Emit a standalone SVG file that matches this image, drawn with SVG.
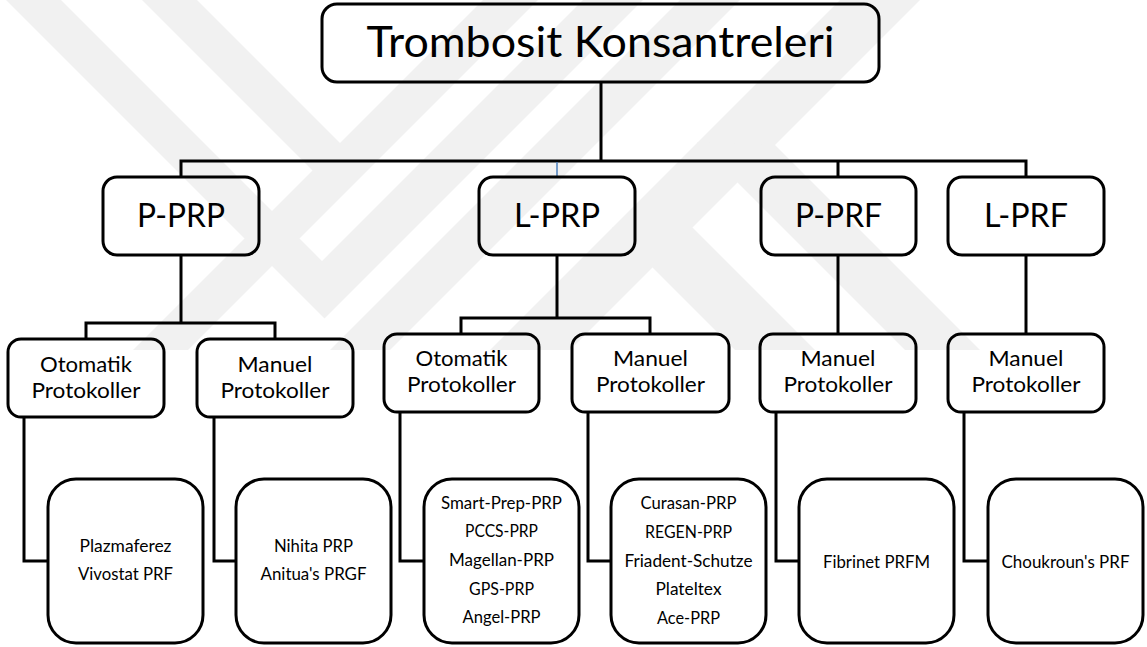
<svg xmlns="http://www.w3.org/2000/svg" width="1147" height="647" viewBox="0 0 1147 647">
<style>
  .wm { fill: #f1f1f1; stroke: none; }
  .box { fill: none; stroke: #000; stroke-width: 3; }
  .con { fill: none; stroke: #000; stroke-width: 3; stroke-linejoin: miter; }
  text { font-family: Lato, "Open Sans", "DejaVu Sans", sans-serif; fill: #000; text-anchor: middle; }
  .t0 { font-size: 43px; }
  .t1 { font-size: 33.5px; }
  .t2 { font-size: 21.5px; }
  .t3 { font-size: 16.8px; }
</style>
<rect width="1147" height="647" fill="#fff"/>
<g id="watermark">
  <polygon class="wm" points="142,0 197,0 340,143 483,0 538,0 188,350 133,350 312.5,170.5"/>
  <polygon class="wm" points="6,0 61,0 322,261 583,0 643,0 324.5,318.5"/>
  <polygon class="wm" points="680,0 740,0 390,350 330,350"/>
  <polygon class="wm" points="840,0 920,0 570,350 490,350"/>
  <polygon class="wm" points="612,227 692,227 815,350 735,350"/>
  <polygon class="wm" points="697,142 775,145 980,350 905,350"/>
</g>
<g id="connectors">
  <path class="con" d="M601 82 V161"/>
  <path class="con" d="M181 177 V161 H1026 V177"/>
  <path class="con" d="M838 161 V177"/>
  <path d="M557 162 V177" stroke="#4a7ebb" stroke-width="1.5" fill="none"/>
  <path class="con" d="M181 255 V323"/>
  <path class="con" d="M86 339 V323 H275 V339"/>
  <path class="con" d="M557 255 V318"/>
  <path class="con" d="M461 334 V318 H650 V334"/>
  <path class="con" d="M838 255 V334"/>
  <path class="con" d="M1026 255 V334"/>
  <path class="con" d="M24 417 V561 H48"/>
  <path class="con" d="M214 417 V561 H236"/>
  <path class="con" d="M400 412 V561 H424"/>
  <path class="con" d="M588 412 V561 H611"/>
  <path class="con" d="M776 412 V561 H799"/>
  <path class="con" d="M964 412 V561 H988"/>
</g>
<g id="root">
  <rect class="box" x="322" y="4" width="557" height="78" rx="15"/>
  <text class="t0" x="600.5" y="57" textLength="468" lengthAdjust="spacingAndGlyphs">Trombosit Konsantreleri</text>
</g>
<g id="p-prp">
  <rect class="box" x="103" y="177" width="156" height="78" rx="14"/>
  <text class="t1" x="181" y="227" textLength="88" lengthAdjust="spacingAndGlyphs">P-PRP</text>
</g>
<g id="l-prp">
  <rect class="box" x="479" y="177" width="156" height="78" rx="14"/>
  <text class="t1" x="557" y="227" textLength="86" lengthAdjust="spacingAndGlyphs">L-PRP</text>
</g>
<g id="p-prf">
  <rect class="box" x="761" y="177" width="155" height="78" rx="14"/>
  <text class="t1" x="838.5" y="227" textLength="87" lengthAdjust="spacingAndGlyphs">P-PRF</text>
</g>
<g id="l-prf">
  <rect class="box" x="948" y="177" width="156" height="78" rx="14"/>
  <text class="t1" x="1026" y="227" textLength="84" lengthAdjust="spacingAndGlyphs">L-PRF</text>
</g>
<g id="pprp-oto">
  <rect class="box" x="8" y="339" width="156" height="78" rx="13"/>
  <text class="t2" x="86" y="372" textLength="92" lengthAdjust="spacingAndGlyphs">Otomatik</text>
  <text class="t2" x="86" y="398" textLength="109" lengthAdjust="spacingAndGlyphs">Protokoller</text>
</g>
<g id="pprp-man">
  <rect class="box" x="197" y="339" width="156" height="78" rx="13"/>
  <text class="t2" x="275" y="372" textLength="75" lengthAdjust="spacingAndGlyphs">Manuel</text>
  <text class="t2" x="275" y="398" textLength="109" lengthAdjust="spacingAndGlyphs">Protokoller</text>
</g>
<g id="lprp-oto">
  <rect class="box" x="384" y="334" width="155" height="78" rx="13"/>
  <text class="t2" x="461.5" y="366" textLength="92" lengthAdjust="spacingAndGlyphs">Otomatik</text>
  <text class="t2" x="461.5" y="392" textLength="109" lengthAdjust="spacingAndGlyphs">Protokoller</text>
</g>
<g id="lprp-man">
  <rect class="box" x="572" y="334" width="157" height="78" rx="13"/>
  <text class="t2" x="650.5" y="366" textLength="75" lengthAdjust="spacingAndGlyphs">Manuel</text>
  <text class="t2" x="650.5" y="392" textLength="109" lengthAdjust="spacingAndGlyphs">Protokoller</text>
</g>
<g id="pprf-man">
  <rect class="box" x="760" y="334" width="156" height="78" rx="13"/>
  <text class="t2" x="838" y="366" textLength="75" lengthAdjust="spacingAndGlyphs">Manuel</text>
  <text class="t2" x="838" y="392" textLength="109" lengthAdjust="spacingAndGlyphs">Protokoller</text>
</g>
<g id="lprf-man">
  <rect class="box" x="948" y="334" width="156" height="78" rx="13"/>
  <text class="t2" x="1026" y="366" textLength="75" lengthAdjust="spacingAndGlyphs">Manuel</text>
  <text class="t2" x="1026" y="392" textLength="109" lengthAdjust="spacingAndGlyphs">Protokoller</text>
</g>
<g id="list-pprp-oto">
  <rect class="box" x="48" y="479" width="155" height="164" rx="28"/>
  <text class="t3" x="125.5" y="552" textLength="92" lengthAdjust="spacingAndGlyphs">Plazmaferez</text>
  <text class="t3" x="125.5" y="580" textLength="95" lengthAdjust="spacingAndGlyphs">Vivostat PRF</text>
</g>
<g id="list-pprp-man">
  <rect class="box" x="236" y="479" width="155" height="164" rx="28"/>
  <text class="t3" x="313.5" y="552" textLength="79" lengthAdjust="spacingAndGlyphs">Nihita PRP</text>
  <text class="t3" x="313.5" y="580" textLength="106" lengthAdjust="spacingAndGlyphs">Anitua's PRGF</text>
</g>
<g id="list-lprp-oto">
  <rect class="box" x="424" y="479" width="155" height="164" rx="28"/>
  <text class="t3" x="501.5" y="508.5" textLength="121" lengthAdjust="spacingAndGlyphs">Smart-Prep-PRP</text>
  <text class="t3" x="501.5" y="537" textLength="73" lengthAdjust="spacingAndGlyphs">PCCS-PRP</text>
  <text class="t3" x="501.5" y="566" textLength="105" lengthAdjust="spacingAndGlyphs">Magellan-PRP</text>
  <text class="t3" x="501.5" y="594.5" textLength="65" lengthAdjust="spacingAndGlyphs">GPS-PRP</text>
  <text class="t3" x="501.5" y="623" textLength="78" lengthAdjust="spacingAndGlyphs">Angel-PRP</text>
</g>
<g id="list-lprp-man">
  <rect class="box" x="611" y="479" width="155" height="164" rx="28"/>
  <text class="t3" x="688.5" y="509" textLength="96" lengthAdjust="spacingAndGlyphs">Curasan-PRP</text>
  <text class="t3" x="688.5" y="538" textLength="87" lengthAdjust="spacingAndGlyphs">REGEN-PRP</text>
  <text class="t3" x="688.5" y="566.5" textLength="128" lengthAdjust="spacingAndGlyphs">Friadent-Schutze</text>
  <text class="t3" x="688.5" y="595" textLength="66" lengthAdjust="spacingAndGlyphs">Plateltex</text>
  <text class="t3" x="688.5" y="623.5" textLength="63" lengthAdjust="spacingAndGlyphs">Ace-PRP</text>
</g>
<g id="list-pprf">
  <rect class="box" x="799" y="479" width="155" height="164" rx="28"/>
  <text class="t3" x="876.5" y="568" textLength="107" lengthAdjust="spacingAndGlyphs">Fibrinet PRFM</text>
</g>
<g id="list-lprf">
  <rect class="box" x="988" y="479" width="155" height="164" rx="28"/>
  <text class="t3" x="1065.5" y="568" textLength="128" lengthAdjust="spacingAndGlyphs">Choukroun's PRF</text>
</g>
</svg>
